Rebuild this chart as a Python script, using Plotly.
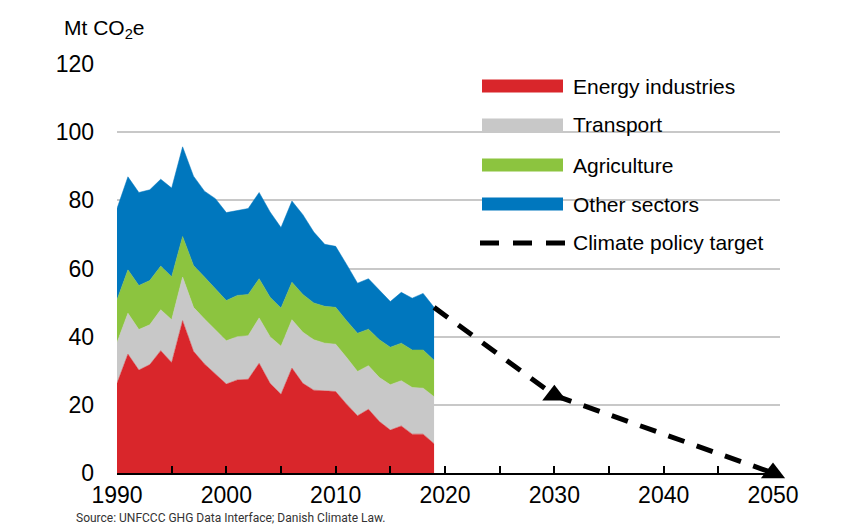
import plotly.graph_objects as go

years = list(range(1990, 2020))
energy = [26.3, 34.9, 30.2, 31.8, 35.9, 32.4, 44.7, 35.7, 32.0, 29.0,
          26.1, 27.3, 27.5, 32.2, 26.3, 23.1, 30.8, 26.3, 24.3, 24.1,
          23.9, 20.2, 16.8, 18.7, 15.1, 12.6, 13.8, 11.4, 11.4, 8.6]
transport = [12.0, 12.0, 11.9, 11.7, 12.0, 12.6, 12.8, 12.9, 13.2, 13.1,
             12.7, 12.7, 12.8, 13.3, 13.7, 14.1, 14.2, 15.0, 14.8, 14.0,
             13.9, 13.7, 13.0, 12.8, 12.9, 13.3, 13.3, 13.7, 13.5, 13.8]
agriculture = [12.5, 12.7, 12.9, 13.0, 12.8, 12.6, 11.9, 12.3, 12.3, 11.9,
               11.8, 12.1, 12.1, 11.5, 11.6, 11.2, 11.0, 11.1, 10.8, 10.8,
               10.8, 10.8, 11.2, 10.7, 11.1, 11.0, 11.0, 11.0, 11.2, 10.7]
other = [26.8, 27.3, 27.3, 26.6, 25.5, 26.0, 26.3, 26.2, 25.2, 26.5,
         25.8, 25.0, 25.2, 25.3, 25.0, 23.6, 23.8, 23.4, 20.8, 18.2,
         17.9, 16.5, 14.7, 14.8, 14.4, 13.4, 14.9, 15.2, 16.6, 15.5]

target_years = [2019, 2030, 2050]
target_values = [48.6, 22.8, 0.0]

series_names = ["Energy industries", "Transport", "Agriculture", "Other sectors"]
target_name = "Climate policy target"
x_tick_vals = [1990, 2000, 2010, 2020, 2030, 2040, 2050]
x_tick_text = ["1990", "2000", "2010", "2020", "2030", "2040", "2050"]
y_tick_vals = [0, 20, 40, 60, 80, 100, 120]

colors = ["#d9262b", "#c8c8c8", "#8cc43f", "#0077be"]

SANS = "Liberation Sans"
COND = "Roboto"

fig = go.Figure()
for name, vals, col in zip(series_names, [energy, transport, agriculture, other], colors):
    fig.add_trace(go.Scatter(
        x=years, y=vals, name=name, mode="lines", stackgroup="one",
        line=dict(color=col, width=0.5), fillcolor=col,
        showlegend=False, hoverinfo="skip"))

fig.add_trace(go.Scatter(
    x=target_years, y=target_values, mode="lines", name=target_name,
    line=dict(color="black", width=5, dash="17px,13px"),
    showlegend=False, hoverinfo="skip"))
fig.add_trace(go.Scatter(
    x=target_years[1:], y=target_values[1:], mode="markers",
    marker=dict(symbol="triangle-up", size=21, color="black",
                line=dict(width=0)),
    cliponaxis=False, showlegend=False, hoverinfo="skip"))

# plot area in pixels
L, R, T, B = 117, 64, 64, 58
W = 844 - L - R
H = 531 - T - B


def px(x):
    return (x - L) / W


def py(y):
    return (531 - B - y) / H


shapes = []
annotations = []
legend_rows = [86, 125, 165, 204]
for name, col, yc in zip(series_names, colors, legend_rows):
    shapes.append(dict(type="rect", xref="paper", yref="paper",
                       x0=px(482), x1=px(563), y0=py(yc - 6.5), y1=py(yc + 6.5),
                       fillcolor=col, line=dict(width=0), layer="above"))
    annotations.append(dict(xref="paper", yref="paper", x=px(571), y=py(yc),
                            xanchor="left", yanchor="middle", showarrow=False,
                            text=name, font=dict(family=SANS, size=21, color="black")))
shapes.append(dict(type="line", xref="paper", yref="paper",
                   x0=px(480), x1=px(566), y0=py(243), y1=py(243),
                   line=dict(color="black", width=5, dash="19px,14px"), layer="above"))
annotations.append(dict(xref="paper", yref="paper", x=px(571), y=py(243),
                        xanchor="left", yanchor="middle", showarrow=False,
                        text=target_name, font=dict(family=SANS, size=21, color="black")))

annotations.append(dict(xref="paper", yref="paper", x=px(62), y=py(29),
                        xanchor="left", yanchor="middle", showarrow=False,
                        text="Mt CO<sub>2</sub>e", font=dict(family=SANS, size=21, color="black")))
annotations.append(dict(xref="paper", yref="paper", x=px(74), y=py(518),
                        xanchor="left", yanchor="middle", showarrow=False,
                        text="Source: UNFCCC GHG Data Interface; Danish Climate Law.",
                        font=dict(family=COND, size=12, color="#333333")))

fig.update_layout(
    width=844, height=531,
    margin=dict(l=L, r=R, t=T, b=B),
    paper_bgcolor="white", plot_bgcolor="white",
    shapes=shapes, annotations=annotations,
    showlegend=False,
    xaxis=dict(range=[1990, 2050.64], tickvals=x_tick_vals, ticktext=x_tick_text,
               ticks="inside", ticklen=7, tickwidth=2, tickcolor="black",
               minor=dict(tick0=1990, dtick=5, ticks="inside", ticklen=7,
                          tickwidth=2, tickcolor="black", showgrid=False),
               showline=True, linecolor="black", linewidth=2,
               showgrid=False, zeroline=False, automargin=False,
               tickfont=dict(family=SANS, size=23, color="black")),
    yaxis=dict(range=[0, 120], tickvals=y_tick_vals,
               showgrid=True, gridcolor="#c8c8c8", gridwidth=2,
               zeroline=False, showline=False, ticks="",
               ticklabelstandoff=22, automargin=False,
               tickfont=dict(family=SANS, size=23, color="black")),
)

fig.write_html("out.html",
               config={"displayModeBar": False, "staticPlot": True},
               post_script="document.body.style.margin='0px';document.body.style.overflow='hidden';")
